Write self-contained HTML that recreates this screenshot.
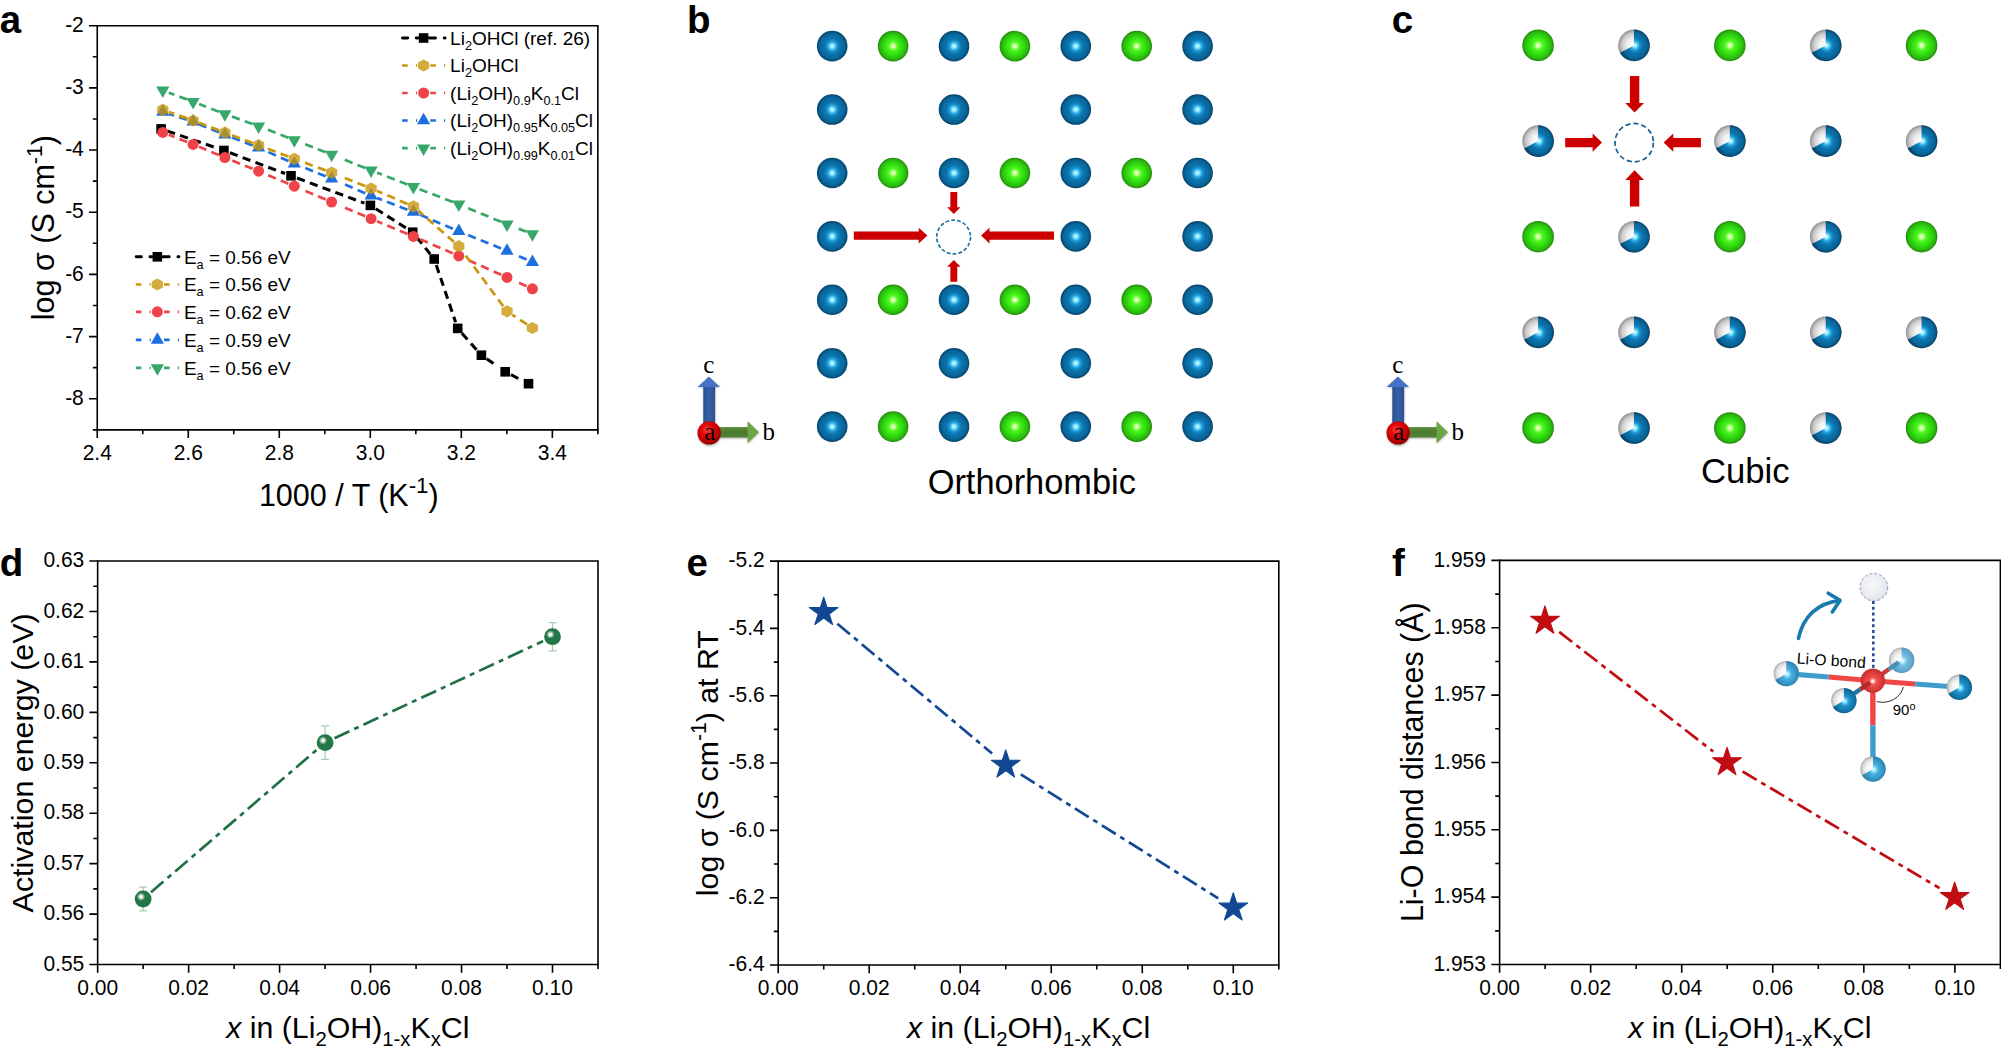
<!DOCTYPE html>
<html lang="en"><head><meta charset="utf-8"><title>Figure</title>
<style>html,body{margin:0;padding:0;background:#fff;}body{width:2001px;height:1053px;overflow:hidden;}svg{display:block;}text{font-family:'Liberation Sans', Arial, sans-serif;fill:#000;}</style>
</head><body>
<svg width="2001" height="1053" viewBox="0 0 2001 1053">
<defs>
<filter id="fsh" x="-30%" y="-30%" width="160%" height="160%"><feGaussianBlur stdDeviation="0.9"/></filter>
<radialGradient id="gB" cx="50%" cy="50%" r="50%"><stop offset="0" stop-color="#d8ffff"/><stop offset="0.12" stop-color="#8eeaff"/><stop offset="0.3" stop-color="#1f9cda"/><stop offset="0.5" stop-color="#0b75ae"/><stop offset="0.8" stop-color="#09669b"/><stop offset="0.93" stop-color="#084f7a"/><stop offset="1" stop-color="#07446c"/></radialGradient>
<radialGradient id="gG" cx="50%" cy="50%" r="50%"><stop offset="0" stop-color="#ffffe6"/><stop offset="0.12" stop-color="#c8ff9a"/><stop offset="0.3" stop-color="#4cf71e"/><stop offset="0.6" stop-color="#30dc10"/><stop offset="0.85" stop-color="#2bb80e"/><stop offset="1" stop-color="#228a0a"/></radialGradient>
<radialGradient id="gW" cx="50%" cy="50%" r="50%"><stop offset="0" stop-color="#ffffff"/><stop offset="0.35" stop-color="#f4f4f4"/><stop offset="0.7" stop-color="#cfcfcf"/><stop offset="1" stop-color="#8e8e8e"/></radialGradient>
<radialGradient id="gR" cx="42%" cy="38%" r="62%"><stop offset="0" stop-color="#ff4a4a"/><stop offset="0.35" stop-color="#e60a0a"/><stop offset="0.75" stop-color="#c00000"/><stop offset="1" stop-color="#8a0000"/></radialGradient>
<radialGradient id="gHi" cx="50%" cy="50%" r="50%"><stop offset="0" stop-color="#fff" stop-opacity="1"/><stop offset="0.3" stop-color="#fff" stop-opacity="0.95"/><stop offset="0.65" stop-color="#fff" stop-opacity="0.45"/><stop offset="1" stop-color="#fff" stop-opacity="0"/></radialGradient>
<radialGradient id="gBall" cx="36%" cy="32%" r="70%"><stop offset="0" stop-color="#ffffff"/><stop offset="0.12" stop-color="#cfe6d8"/><stop offset="0.3" stop-color="#2f8257"/><stop offset="0.6" stop-color="#1f7044"/><stop offset="1" stop-color="#185a36"/></radialGradient>
</defs>
<text x="-0.2" y="33.1" font-size="38.5" font-weight="bold">a</text>
<text x="687.1" y="33" font-size="38.5" font-weight="bold">b</text>
<text x="1391.8" y="33" font-size="38.5" font-weight="bold">c</text>
<text x="-0.2" y="576.4" font-size="38.5" font-weight="bold">d</text>
<text x="686.4" y="576.3" font-size="38.5" font-weight="bold">e</text>
<text x="1392" y="576.3" font-size="38.5" font-weight="bold">f</text>
<path d="M97.25 25.68 H597.85 V429.85" fill="none" stroke="#000" stroke-width="1.6" stroke-linejoin="miter"/>
<path d="M97.25 25.68 V429.85 H597.85" fill="none" stroke="#000" stroke-width="1.6" stroke-linecap="square"/>
<path d="M97.25 429.85 v8.25M188.27 429.85 v8.25M279.29 429.85 v8.25M370.3 429.85 v8.25M461.32 429.85 v8.25M552.34 429.85 v8.25M142.76 429.85 v4.4M233.78 429.85 v4.4M324.79 429.85 v4.4M415.81 429.85 v4.4M506.83 429.85 v4.4M597.85 429.85 v4.4M97.25 25.68 h-8.25M97.25 87.86 h-8.25M97.25 150.04 h-8.25M97.25 212.22 h-8.25M97.25 274.4 h-8.25M97.25 336.58 h-8.25M97.25 398.76 h-8.25M97.25 56.77 h-4.4M97.25 118.95 h-4.4M97.25 181.13 h-4.4M97.25 243.31 h-4.4M97.25 305.49 h-4.4M97.25 367.67 h-4.4M97.25 429.85 h-4.4" fill="none" stroke="#000" stroke-width="1.6"/>
<text transform="translate(97.25 459.6) scale(1 1.04)" font-size="21" text-anchor="middle">2.4</text>
<text transform="translate(188.27 459.6) scale(1 1.04)" font-size="21" text-anchor="middle">2.6</text>
<text transform="translate(279.29 459.6) scale(1 1.04)" font-size="21" text-anchor="middle">2.8</text>
<text transform="translate(370.3 459.6) scale(1 1.04)" font-size="21" text-anchor="middle">3.0</text>
<text transform="translate(461.32 459.6) scale(1 1.04)" font-size="21" text-anchor="middle">3.2</text>
<text transform="translate(552.34 459.6) scale(1 1.04)" font-size="21" text-anchor="middle">3.4</text>
<text transform="translate(83.8 31.88) scale(1 1.04)" font-size="21" text-anchor="end">-2</text>
<text transform="translate(83.8 94.06) scale(1 1.04)" font-size="21" text-anchor="end">-3</text>
<text transform="translate(83.8 156.24) scale(1 1.04)" font-size="21" text-anchor="end">-4</text>
<text transform="translate(83.8 218.42) scale(1 1.04)" font-size="21" text-anchor="end">-5</text>
<text transform="translate(83.8 280.6) scale(1 1.04)" font-size="21" text-anchor="end">-6</text>
<text transform="translate(83.8 342.78) scale(1 1.04)" font-size="21" text-anchor="end">-7</text>
<text transform="translate(83.8 404.96) scale(1 1.04)" font-size="21" text-anchor="end">-8</text>
<text x="348.8" y="505.6" font-size="30.5" text-anchor="middle" ><tspan dy="0">1000 / T (K</tspan><tspan dy="-12.2" font-size="22.27">-1</tspan><tspan dy="12.2">)</tspan></text>
<g transform="translate(54.2 227.6) rotate(-90)"><text x="0" y="0" font-size="30.5" text-anchor="middle" ><tspan dy="0">log σ (S cm</tspan><tspan dy="-12.2" font-size="21.35">-1</tspan><tspan dy="12.2">)</tspan></text></g>
<path d="M167.15 130.98L217.85 148.42M229.89 152.76L285.01 173.54M297 178.04L364.4 203.16M375.81 208.83L407.29 228.77M416.7 237.19L430.2 254.01M436.25 265.06L455.65 322.34M461.94 333.19L477.16 350.41M486.65 358.86L493.46 363.61M510.9 374.71L522.8 380.79" fill="none" stroke="#000000" stroke-width="3.05" stroke-dasharray="8.3 5.35"/>
<rect x="156.3" y="124.1" width="9.6" height="9.6" fill="#000000"/>
<rect x="219.1" y="145.7" width="9.6" height="9.6" fill="#000000"/>
<rect x="286.2" y="171" width="9.6" height="9.6" fill="#000000"/>
<rect x="365.6" y="200.6" width="9.6" height="9.6" fill="#000000"/>
<rect x="407.9" y="227.4" width="9.6" height="9.6" fill="#000000"/>
<rect x="429.4" y="254.2" width="9.6" height="9.6" fill="#000000"/>
<rect x="452.9" y="323.6" width="9.6" height="9.6" fill="#000000"/>
<rect x="476.6" y="350.4" width="9.6" height="9.6" fill="#000000"/>
<rect x="500.4" y="367" width="9.6" height="9.6" fill="#000000"/>
<rect x="523.7" y="378.9" width="9.6" height="9.6" fill="#000000"/>
<path d="M187.15 142.04L168.75 134.76M218.98 155.06L199.02 146.84M252.67 168.79L230.83 159.91M288.4 183.72L264.5 173.68M325.71 199.5L305.5 190.94M365.21 216.21L344.99 207.66M407.5 233.93L377 221.17M452.92 253.37L419.28 238.93M501.16 274.79L464.64 258.51M526.56 286.18L518.99 282.78" fill="none" stroke="#f04349" stroke-width="2.7" stroke-dasharray="8.3 5.35"/>
<circle cx="162.8" cy="132.4" r="5.5" fill="#f04349"/>
<circle cx="193.1" cy="144.4" r="5.5" fill="#f04349"/>
<circle cx="224.9" cy="157.5" r="5.5" fill="#f04349"/>
<circle cx="258.6" cy="171.2" r="5.5" fill="#f04349"/>
<circle cx="294.3" cy="186.2" r="5.5" fill="#f04349"/>
<circle cx="331.6" cy="202" r="5.5" fill="#f04349"/>
<circle cx="371.1" cy="218.7" r="5.5" fill="#f04349"/>
<circle cx="413.4" cy="236.4" r="5.5" fill="#f04349"/>
<circle cx="458.8" cy="255.9" r="5.5" fill="#f04349"/>
<circle cx="507" cy="277.4" r="5.5" fill="#f04349"/>
<circle cx="532.4" cy="288.8" r="5.5" fill="#f04349"/>
<path d="M187.02 119.81L168.88 113.89M218.97 132.29L199.03 124.21M252.63 145.48L230.87 137.02M288.45 161.01L264.45 150.39M325.67 176.3L305.32 168.06M365.22 193.17L345.06 184.49M407.43 209.7L377.07 198M452.91 228.71L419.29 214.49M501.08 248.48L464.72 233.62M526.55 259.6L518.97 256.22" fill="none" stroke="#1d6fe0" stroke-width="2.7" stroke-dasharray="8.3 5.35"/>
<polygon points="162.8,104.2 169.4,115.7 156.2,115.7" fill="#1d6fe0"/>
<polygon points="193.1,114.1 199.7,125.6 186.5,125.6" fill="#1d6fe0"/>
<polygon points="224.9,127 231.5,138.5 218.3,138.5" fill="#1d6fe0"/>
<polygon points="258.6,140.1 265.2,151.6 252,151.6" fill="#1d6fe0"/>
<polygon points="294.3,155.9 300.9,167.4 287.7,167.4" fill="#1d6fe0"/>
<polygon points="331.6,171 338.2,182.5 325,182.5" fill="#1d6fe0"/>
<polygon points="371.1,188 377.7,199.5 364.5,199.5" fill="#1d6fe0"/>
<polygon points="413.4,204.3 420,215.8 406.8,215.8" fill="#1d6fe0"/>
<polygon points="458.8,223.5 465.4,235 452.2,235" fill="#1d6fe0"/>
<polygon points="507,243.2 513.6,254.7 500.4,254.7" fill="#1d6fe0"/>
<polygon points="532.4,254.5 539,266 525.8,266" fill="#1d6fe0"/>
<path d="M187.06 118.39L168.84 112.01M218.92 130.32L199.08 122.78M252.61 142.96L230.89 134.84M288.32 156.61L264.58 147.49M325.59 170.39L300.31 161.11M365.16 186.11L344.8 177.91M407.51 203.91L376.99 190.99M453.99 241.98L418.21 210.62M503.19 306.16L462.61 251.34M527.05 324.48L512.35 314.82" fill="none" stroke="#c9960c" stroke-width="2.7" stroke-dasharray="8.3 5.35"/>
<polygon points="162.8,103.8 168.4,106.85 168.4,112.95 162.8,116 157.2,112.95 157.2,106.85" fill="#c9960c" fill-opacity="0.8"/>
<polygon points="193.1,114.4 198.7,117.45 198.7,123.55 193.1,126.6 187.5,123.55 187.5,117.45" fill="#c9960c" fill-opacity="0.8"/>
<polygon points="224.9,126.5 230.5,129.55 230.5,135.65 224.9,138.7 219.3,135.65 219.3,129.55" fill="#c9960c" fill-opacity="0.8"/>
<polygon points="258.6,139.1 264.2,142.15 264.2,148.25 258.6,151.3 253,148.25 253,142.15" fill="#c9960c" fill-opacity="0.8"/>
<polygon points="294.3,152.8 299.9,155.85 299.9,161.95 294.3,165 288.7,161.95 288.7,155.85" fill="#c9960c" fill-opacity="0.8"/>
<polygon points="331.6,166.5 337.2,169.55 337.2,175.65 331.6,178.7 326,175.65 326,169.55" fill="#c9960c" fill-opacity="0.8"/>
<polygon points="371.1,182.4 376.7,185.45 376.7,191.55 371.1,194.6 365.5,191.55 365.5,185.45" fill="#c9960c" fill-opacity="0.8"/>
<polygon points="413.4,200.3 419,203.35 419,209.45 413.4,212.5 407.8,209.45 407.8,203.35" fill="#c9960c" fill-opacity="0.8"/>
<polygon points="458.8,240.1 464.4,243.15 464.4,249.25 458.8,252.3 453.2,249.25 453.2,243.15" fill="#c9960c" fill-opacity="0.8"/>
<polygon points="507,305.2 512.6,308.25 512.6,314.35 507,317.4 501.4,314.35 501.4,308.25" fill="#c9960c" fill-opacity="0.8"/>
<polygon points="532.4,321.9 538,324.95 538,331.05 532.4,334.1 526.8,331.05 526.8,324.95" fill="#c9960c" fill-opacity="0.8"/>
<path d="M187.11 99.55L168.79 92.65M218.92 111.71L199.08 104.09M252.58 124.02L230.92 116.18M288.33 137.69L264.57 128.51M325.63 152.18L300.27 142.32M365.16 168.01L344.8 159.81M407.43 184.49L377.07 172.71M452.83 202L419.37 189.1M501.09 221.85L464.71 206.75M526.42 231.72L518.67 228.76" fill="none" stroke="#37a869" stroke-width="2.7" stroke-dasharray="8.3 5.35"/>
<polygon points="162.8,98.1 169.4,86.6 156.2,86.6" fill="#37a869"/>
<polygon points="193.1,109.5 199.7,98 186.5,98" fill="#37a869"/>
<polygon points="224.9,121.7 231.5,110.2 218.3,110.2" fill="#37a869"/>
<polygon points="258.6,133.9 265.2,122.4 252,122.4" fill="#37a869"/>
<polygon points="294.3,147.7 300.9,136.2 287.7,136.2" fill="#37a869"/>
<polygon points="331.6,162.2 338.2,150.7 325,150.7" fill="#37a869"/>
<polygon points="371.1,178.1 377.7,166.6 364.5,166.6" fill="#37a869"/>
<polygon points="413.4,194.5 420,183 406.8,183" fill="#37a869"/>
<polygon points="458.8,212 465.4,200.5 452.2,200.5" fill="#37a869"/>
<polygon points="507,232 513.6,220.5 500.4,220.5" fill="#37a869"/>
<polygon points="532.4,241.7 539,230.2 525.8,230.2" fill="#37a869"/>
<path d="M402.4 38H407.7M416.2 38H418.2M429.2 38H435.5M444.2 38H445.2" fill="none" stroke="#000000" stroke-width="2.9" stroke-linecap="round"/>
<rect x="418.8" y="33.2" width="9.6" height="9.6" fill="#000000"/>
<text x="450.1" y="44.7" font-size="19" text-anchor="start" ><tspan dy="0">Li</tspan><tspan dy="5" font-size="12.67">2</tspan><tspan dy="-5">OHCl (ref. 26)</tspan></text>
<path d="M402.1 65.5H407.7M415.9 65.5H417.1M430.3 65.5H435.9M444 65.5H445.2" fill="none" stroke="#c9960c" stroke-width="2.65"/>
<polygon points="423.6,59.4 429.2,62.45 429.2,68.55 423.6,71.6 418,68.55 418,62.45" fill="#c9960c" fill-opacity="0.8"/>
<text x="450.1" y="72.2" font-size="19" text-anchor="start" ><tspan dy="0">Li</tspan><tspan dy="5" font-size="12.67">2</tspan><tspan dy="-5">OHCl</tspan></text>
<path d="M402.1 93H407.7M415.9 93H417.1M430.3 93H435.9M444 93H445.2" fill="none" stroke="#f04349" stroke-width="2.65"/>
<circle cx="423.6" cy="93" r="5.5" fill="#f04349"/>
<text x="450.1" y="99.7" font-size="19" text-anchor="start" ><tspan dy="0">(Li</tspan><tspan dy="5" font-size="12.67">2</tspan><tspan dy="-5">OH)</tspan><tspan dy="5" font-size="12.67">0.9</tspan><tspan dy="-5">K</tspan><tspan dy="5" font-size="12.67">0.1</tspan><tspan dy="-5">Cl</tspan></text>
<path d="M402.1 120.5H407.7M415.9 120.5H417.1M430.3 120.5H435.9M444 120.5H445.2" fill="none" stroke="#1d6fe0" stroke-width="2.65"/>
<polygon points="423.6,112.85 430.2,124.35 417,124.35" fill="#1d6fe0"/>
<text x="450.1" y="127.2" font-size="19" text-anchor="start" ><tspan dy="0">(Li</tspan><tspan dy="5" font-size="12.67">2</tspan><tspan dy="-5">OH)</tspan><tspan dy="5" font-size="12.67">0.95</tspan><tspan dy="-5">K</tspan><tspan dy="5" font-size="12.67">0.05</tspan><tspan dy="-5">Cl</tspan></text>
<path d="M402.1 148.05H407.7M415.9 148.05H417.1M430.3 148.05H435.9M444 148.05H445.2" fill="none" stroke="#37a869" stroke-width="2.65"/>
<polygon points="423.6,155.9 430.2,144.4 417,144.4" fill="#37a869"/>
<text x="450.1" y="154.75" font-size="19" text-anchor="start" ><tspan dy="0">(Li</tspan><tspan dy="5" font-size="12.67">2</tspan><tspan dy="-5">OH)</tspan><tspan dy="5" font-size="12.67">0.99</tspan><tspan dy="-5">K</tspan><tspan dy="5" font-size="12.67">0.01</tspan><tspan dy="-5">Cl</tspan></text>
<path d="M136.15 256.8H141.45M149.95 256.8H151.95M162.95 256.8H169.25M177.95 256.8H178.95" fill="none" stroke="#000000" stroke-width="2.9" stroke-linecap="round"/>
<rect x="152.55" y="252" width="9.6" height="9.6" fill="#000000"/>
<text x="183.9" y="263.5" font-size="19" text-anchor="start" ><tspan dy="0">E</tspan><tspan dy="5" font-size="12.67">a</tspan><tspan dy="-5"> = 0.56 eV</tspan></text>
<path d="M135.85 284.5H141.45M149.65 284.5H150.85M164.05 284.5H169.65M177.75 284.5H178.95" fill="none" stroke="#c9960c" stroke-width="2.65"/>
<polygon points="157.35,278.4 162.95,281.45 162.95,287.55 157.35,290.6 151.75,287.55 151.75,281.45" fill="#c9960c" fill-opacity="0.8"/>
<text x="183.9" y="291.2" font-size="19" text-anchor="start" ><tspan dy="0">E</tspan><tspan dy="5" font-size="12.67">a</tspan><tspan dy="-5"> = 0.56 eV</tspan></text>
<path d="M135.85 311.85H141.45M149.65 311.85H150.85M164.05 311.85H169.65M177.75 311.85H178.95" fill="none" stroke="#f04349" stroke-width="2.65"/>
<circle cx="157.35" cy="311.85" r="5.5" fill="#f04349"/>
<text x="183.9" y="318.55" font-size="19" text-anchor="start" ><tspan dy="0">E</tspan><tspan dy="5" font-size="12.67">a</tspan><tspan dy="-5"> = 0.62 eV</tspan></text>
<path d="M135.85 339.9H141.45M149.65 339.9H150.85M164.05 339.9H169.65M177.75 339.9H178.95" fill="none" stroke="#1d6fe0" stroke-width="2.65"/>
<polygon points="157.35,332.25 163.95,343.75 150.75,343.75" fill="#1d6fe0"/>
<text x="183.9" y="346.6" font-size="19" text-anchor="start" ><tspan dy="0">E</tspan><tspan dy="5" font-size="12.67">a</tspan><tspan dy="-5"> = 0.59 eV</tspan></text>
<path d="M135.85 367.85H141.45M149.65 367.85H150.85M164.05 367.85H169.65M177.75 367.85H178.95" fill="none" stroke="#37a869" stroke-width="2.65"/>
<polygon points="157.35,375.7 163.95,364.2 150.75,364.2" fill="#37a869"/>
<text x="183.9" y="374.55" font-size="19" text-anchor="start" ><tspan dy="0">E</tspan><tspan dy="5" font-size="12.67">a</tspan><tspan dy="-5"> = 0.56 eV</tspan></text>
<defs><radialGradient id="gW2" gradientUnits="userSpaceOnUse" cx="0" cy="0" r="1"><stop offset="0" stop-color="#fff"/></radialGradient></defs>
<circle cx="832.2" cy="46.15" r="15.3" fill="url(#gB)"/>
<circle cx="893.1" cy="46.15" r="15.3" fill="url(#gG)"/>
<circle cx="954" cy="46.15" r="15.3" fill="url(#gB)"/>
<circle cx="1014.9" cy="46.15" r="15.3" fill="url(#gG)"/>
<circle cx="1075.8" cy="46.15" r="15.3" fill="url(#gB)"/>
<circle cx="1136.7" cy="46.15" r="15.3" fill="url(#gG)"/>
<circle cx="1197.6" cy="46.15" r="15.3" fill="url(#gB)"/>
<circle cx="832.2" cy="109.56" r="15.3" fill="url(#gB)"/>
<circle cx="954" cy="109.56" r="15.3" fill="url(#gB)"/>
<circle cx="1075.8" cy="109.56" r="15.3" fill="url(#gB)"/>
<circle cx="1197.6" cy="109.56" r="15.3" fill="url(#gB)"/>
<circle cx="832.2" cy="172.97" r="15.3" fill="url(#gB)"/>
<circle cx="893.1" cy="172.97" r="15.3" fill="url(#gG)"/>
<circle cx="954" cy="172.97" r="15.3" fill="url(#gB)"/>
<circle cx="1014.9" cy="172.97" r="15.3" fill="url(#gG)"/>
<circle cx="1075.8" cy="172.97" r="15.3" fill="url(#gB)"/>
<circle cx="1136.7" cy="172.97" r="15.3" fill="url(#gG)"/>
<circle cx="1197.6" cy="172.97" r="15.3" fill="url(#gB)"/>
<circle cx="832.2" cy="236.38" r="15.3" fill="url(#gB)"/>
<circle cx="1075.8" cy="236.38" r="15.3" fill="url(#gB)"/>
<circle cx="1197.6" cy="236.38" r="15.3" fill="url(#gB)"/>
<circle cx="832.2" cy="299.79" r="15.3" fill="url(#gB)"/>
<circle cx="893.1" cy="299.79" r="15.3" fill="url(#gG)"/>
<circle cx="954" cy="299.79" r="15.3" fill="url(#gB)"/>
<circle cx="1014.9" cy="299.79" r="15.3" fill="url(#gG)"/>
<circle cx="1075.8" cy="299.79" r="15.3" fill="url(#gB)"/>
<circle cx="1136.7" cy="299.79" r="15.3" fill="url(#gG)"/>
<circle cx="1197.6" cy="299.79" r="15.3" fill="url(#gB)"/>
<circle cx="832.2" cy="363.2" r="15.3" fill="url(#gB)"/>
<circle cx="954" cy="363.2" r="15.3" fill="url(#gB)"/>
<circle cx="1075.8" cy="363.2" r="15.3" fill="url(#gB)"/>
<circle cx="1197.6" cy="363.2" r="15.3" fill="url(#gB)"/>
<circle cx="832.2" cy="426.61" r="15.3" fill="url(#gB)"/>
<circle cx="893.1" cy="426.61" r="15.3" fill="url(#gG)"/>
<circle cx="954" cy="426.61" r="15.3" fill="url(#gB)"/>
<circle cx="1014.9" cy="426.61" r="15.3" fill="url(#gG)"/>
<circle cx="1075.8" cy="426.61" r="15.3" fill="url(#gB)"/>
<circle cx="1136.7" cy="426.61" r="15.3" fill="url(#gG)"/>
<circle cx="1197.6" cy="426.61" r="15.3" fill="url(#gB)"/>
<text x="1031.8" y="493.9" font-size="34.4" text-anchor="middle">Orthorhombic</text>
<circle cx="953.6" cy="237" r="16.9" fill="none" stroke="#1a6f9f" stroke-width="1.6" stroke-dasharray="3.8 2.1"/>
<polygon points="853.8,239.8 918.7,239.8 918.7,243.45 927.4,235.6 918.7,227.75 918.7,231.4 853.8,231.4" fill="#cc0000"/>
<polygon points="1054,231.4 989.5,231.4 989.5,227.75 981.1,235.6 989.5,243.45 989.5,239.8 1054,239.8" fill="#cc0000"/>
<polygon points="950.35,192.1 950.35,207.2 947.1,207.2 953.8,213.9 960.5,207.2 957.25,207.2 957.25,192.1" fill="#cc0000"/>
<polygon points="957.25,281.7 957.25,266.8 960.5,266.8 953.8,259.9 947.1,266.8 950.35,266.8 950.35,281.7" fill="#cc0000"/>
<defs><linearGradient id="gc0" x1="0" x2="1" y1="0" y2="0"><stop offset="0" stop-color="#2c4f8f"/><stop offset="0.5" stop-color="#3560a8"/><stop offset="1" stop-color="#2c5092"/></linearGradient><linearGradient id="gb0" x1="0" x2="0" y1="0" y2="1"><stop offset="0" stop-color="#5b8c3a"/><stop offset="0.5" stop-color="#4b7a2f"/><stop offset="1" stop-color="#548235"/></linearGradient></defs>
<g filter="url(#fsh)" opacity="0.4"><rect x="703.5" y="387" width="11.8" height="40" fill="#444"/><polygon points="709.1,377.4 720.2,387.6 697.9,387.6" fill="#444"/><rect x="712" y="428" width="36" height="10.5" fill="#444"/><polygon points="759.3,433 747.8,422 747.8,444" fill="#444"/><circle cx="709.5" cy="434.2" r="11.7" fill="#333"/></g>
<rect x="703.3" y="386" width="11.8" height="40" fill="url(#gc0)"/>
<polygon points="708.9,376.6 720,386.9 697.7,386.9" fill="#4472c4"/>
<rect x="712" y="427.1" width="36" height="10.5" fill="url(#gb0)"/>
<polygon points="759,432.2 747.6,421.2 747.6,443.2" fill="#6ca644"/>
<circle cx="709.2" cy="432.9" r="11.7" fill="url(#gR)"/>
<text x="708.8" y="372.6" font-size="25" text-anchor="middle" style="font-family:'Liberation Serif', 'Times New Roman', serif">c</text>
<text x="709.8" y="439.8" font-size="25" text-anchor="middle" style="font-family:'Liberation Serif', 'Times New Roman', serif">a</text>
<text x="762.5" y="439.8" font-size="25" style="font-family:'Liberation Serif', 'Times New Roman', serif">b</text>
<defs><radialGradient id="gWc" cx="50%" cy="50%" r="50%"><stop offset="0" stop-color="#ffffff"/><stop offset="0.4" stop-color="#f2f2f2"/><stop offset="0.75" stop-color="#cdcdcd"/><stop offset="1" stop-color="#909090"/></radialGradient></defs>
<circle cx="1538.1" cy="45.4" r="15.8" fill="url(#gG)"/>
<circle cx="1633.97" cy="45.4" r="15.8" fill="url(#gWc)"/><path d="M1633.97 45.4 L1633.97 29.6 A15.8 15.8 0 1 1 1620.02 52.82 Z" fill="url(#gB)"/>
<circle cx="1729.84" cy="45.4" r="15.8" fill="url(#gG)"/>
<circle cx="1825.71" cy="45.4" r="15.8" fill="url(#gWc)"/><path d="M1825.71 45.4 L1825.71 29.6 A15.8 15.8 0 1 1 1811.76 52.82 Z" fill="url(#gB)"/>
<circle cx="1921.58" cy="45.4" r="15.8" fill="url(#gG)"/>
<circle cx="1538.1" cy="141.05" r="15.8" fill="url(#gWc)"/><path d="M1538.1 141.05 L1538.1 125.25 A15.8 15.8 0 1 1 1524.15 148.47 Z" fill="url(#gB)"/>
<circle cx="1729.84" cy="141.05" r="15.8" fill="url(#gWc)"/><path d="M1729.84 141.05 L1729.84 125.25 A15.8 15.8 0 1 1 1715.89 148.47 Z" fill="url(#gB)"/>
<circle cx="1825.71" cy="141.05" r="15.8" fill="url(#gWc)"/><path d="M1825.71 141.05 L1825.71 125.25 A15.8 15.8 0 1 1 1811.76 148.47 Z" fill="url(#gB)"/>
<circle cx="1921.58" cy="141.05" r="15.8" fill="url(#gWc)"/><path d="M1921.58 141.05 L1921.58 125.25 A15.8 15.8 0 1 1 1907.63 148.47 Z" fill="url(#gB)"/>
<circle cx="1538.1" cy="236.7" r="15.8" fill="url(#gG)"/>
<circle cx="1633.97" cy="236.7" r="15.8" fill="url(#gWc)"/><path d="M1633.97 236.7 L1633.97 220.9 A15.8 15.8 0 1 1 1620.02 244.12 Z" fill="url(#gB)"/>
<circle cx="1729.84" cy="236.7" r="15.8" fill="url(#gG)"/>
<circle cx="1825.71" cy="236.7" r="15.8" fill="url(#gWc)"/><path d="M1825.71 236.7 L1825.71 220.9 A15.8 15.8 0 1 1 1811.76 244.12 Z" fill="url(#gB)"/>
<circle cx="1921.58" cy="236.7" r="15.8" fill="url(#gG)"/>
<circle cx="1538.1" cy="332.35" r="15.8" fill="url(#gWc)"/><path d="M1538.1 332.35 L1538.1 316.55 A15.8 15.8 0 1 1 1524.15 339.77 Z" fill="url(#gB)"/>
<circle cx="1633.97" cy="332.35" r="15.8" fill="url(#gWc)"/><path d="M1633.97 332.35 L1633.97 316.55 A15.8 15.8 0 1 1 1620.02 339.77 Z" fill="url(#gB)"/>
<circle cx="1729.84" cy="332.35" r="15.8" fill="url(#gWc)"/><path d="M1729.84 332.35 L1729.84 316.55 A15.8 15.8 0 1 1 1715.89 339.77 Z" fill="url(#gB)"/>
<circle cx="1825.71" cy="332.35" r="15.8" fill="url(#gWc)"/><path d="M1825.71 332.35 L1825.71 316.55 A15.8 15.8 0 1 1 1811.76 339.77 Z" fill="url(#gB)"/>
<circle cx="1921.58" cy="332.35" r="15.8" fill="url(#gWc)"/><path d="M1921.58 332.35 L1921.58 316.55 A15.8 15.8 0 1 1 1907.63 339.77 Z" fill="url(#gB)"/>
<circle cx="1538.1" cy="428" r="15.8" fill="url(#gG)"/>
<circle cx="1633.97" cy="428" r="15.8" fill="url(#gWc)"/><path d="M1633.97 428 L1633.97 412.2 A15.8 15.8 0 1 1 1620.02 435.42 Z" fill="url(#gB)"/>
<circle cx="1729.84" cy="428" r="15.8" fill="url(#gG)"/>
<circle cx="1825.71" cy="428" r="15.8" fill="url(#gWc)"/><path d="M1825.71 428 L1825.71 412.2 A15.8 15.8 0 1 1 1811.76 435.42 Z" fill="url(#gB)"/>
<circle cx="1921.58" cy="428" r="15.8" fill="url(#gG)"/>
<text x="1745.3" y="483.3" font-size="34.7" text-anchor="middle">Cubic</text>
<circle cx="1634.2" cy="142.65" r="19.2" fill="none" stroke="#15608f" stroke-width="1.7" stroke-dasharray="5.1 3"/>
<polygon points="1565.2,147.3 1592.6,147.3 1592.6,151.7 1602,142.6 1592.6,133.5 1592.6,137.9 1565.2,137.9" fill="#cc0000"/>
<polygon points="1700.9,137.9 1673.3,137.9 1673.3,133.5 1663.6,142.6 1673.3,151.7 1673.3,147.3 1700.9,147.3" fill="#cc0000"/>
<polygon points="1629.9,76.1 1629.9,103.1 1625.2,103.1 1634.6,112.5 1644,103.1 1639.3,103.1 1639.3,76.1" fill="#cc0000"/>
<polygon points="1639.3,206.5 1639.3,179.9 1644,179.9 1634.6,170.2 1625.2,179.9 1629.9,179.9 1629.9,206.5" fill="#cc0000"/>
<defs><linearGradient id="gc689" x1="0" x2="1" y1="0" y2="0"><stop offset="0" stop-color="#2c4f8f"/><stop offset="0.5" stop-color="#3560a8"/><stop offset="1" stop-color="#2c5092"/></linearGradient><linearGradient id="gb689" x1="0" x2="0" y1="0" y2="1"><stop offset="0" stop-color="#5b8c3a"/><stop offset="0.5" stop-color="#4b7a2f"/><stop offset="1" stop-color="#548235"/></linearGradient></defs>
<g filter="url(#fsh)" opacity="0.4"><rect x="1392.5" y="387" width="11.8" height="40" fill="#444"/><polygon points="1398.1,377.4 1409.2,387.6 1386.9,387.6" fill="#444"/><rect x="1401" y="428" width="36" height="10.5" fill="#444"/><polygon points="1448.3,433 1436.8,422 1436.8,444" fill="#444"/><circle cx="1398.5" cy="434.2" r="11.7" fill="#333"/></g>
<rect x="1392.3" y="386" width="11.8" height="40" fill="url(#gc689)"/>
<polygon points="1397.9,376.6 1409,386.9 1386.7,386.9" fill="#4472c4"/>
<rect x="1401" y="427.1" width="36" height="10.5" fill="url(#gb689)"/>
<polygon points="1448,432.2 1436.6,421.2 1436.6,443.2" fill="#6ca644"/>
<circle cx="1398.2" cy="432.9" r="11.7" fill="url(#gR)"/>
<text x="1397.8" y="372.6" font-size="25" text-anchor="middle" style="font-family:'Liberation Serif', 'Times New Roman', serif">c</text>
<text x="1398.8" y="439.8" font-size="25" text-anchor="middle" style="font-family:'Liberation Serif', 'Times New Roman', serif">a</text>
<text x="1451.5" y="439.8" font-size="25" style="font-family:'Liberation Serif', 'Times New Roman', serif">b</text>
<path d="M97.65 561.05 H598 V964.55" fill="none" stroke="#000" stroke-width="1.6" stroke-linejoin="miter"/>
<path d="M97.65 561.05 V964.55 H598" fill="none" stroke="#000" stroke-width="1.6" stroke-linecap="square"/>
<path d="M97.65 964.55 v8.25M188.62 964.55 v8.25M279.59 964.55 v8.25M370.57 964.55 v8.25M461.54 964.55 v8.25M552.51 964.55 v8.25M143.14 964.55 v4.4M234.11 964.55 v4.4M325.08 964.55 v4.4M416.05 964.55 v4.4M507.02 964.55 v4.4M598 964.55 v4.4M97.65 964.55 h-8.25M97.65 914.11 h-8.25M97.65 863.67 h-8.25M97.65 813.24 h-8.25M97.65 762.8 h-8.25M97.65 712.36 h-8.25M97.65 661.92 h-8.25M97.65 611.49 h-8.25M97.65 561.05 h-8.25M97.65 939.33 h-4.4M97.65 888.89 h-4.4M97.65 838.46 h-4.4M97.65 788.02 h-4.4M97.65 737.58 h-4.4M97.65 687.14 h-4.4M97.65 636.71 h-4.4M97.65 586.27 h-4.4" fill="none" stroke="#000" stroke-width="1.6"/>
<text transform="translate(97.65 994.6) scale(1 1.04)" font-size="21" text-anchor="middle">0.00</text>
<text transform="translate(188.62 994.6) scale(1 1.04)" font-size="21" text-anchor="middle">0.02</text>
<text transform="translate(279.59 994.6) scale(1 1.04)" font-size="21" text-anchor="middle">0.04</text>
<text transform="translate(370.57 994.6) scale(1 1.04)" font-size="21" text-anchor="middle">0.06</text>
<text transform="translate(461.54 994.6) scale(1 1.04)" font-size="21" text-anchor="middle">0.08</text>
<text transform="translate(552.51 994.6) scale(1 1.04)" font-size="21" text-anchor="middle">0.10</text>
<text transform="translate(84.3 970.75) scale(1 1.04)" font-size="21" text-anchor="end">0.55</text>
<text transform="translate(84.3 920.31) scale(1 1.04)" font-size="21" text-anchor="end">0.56</text>
<text transform="translate(84.3 869.87) scale(1 1.04)" font-size="21" text-anchor="end">0.57</text>
<text transform="translate(84.3 819.44) scale(1 1.04)" font-size="21" text-anchor="end">0.58</text>
<text transform="translate(84.3 769) scale(1 1.04)" font-size="21" text-anchor="end">0.59</text>
<text transform="translate(84.3 718.56) scale(1 1.04)" font-size="21" text-anchor="end">0.60</text>
<text transform="translate(84.3 668.12) scale(1 1.04)" font-size="21" text-anchor="end">0.61</text>
<text transform="translate(84.3 617.69) scale(1 1.04)" font-size="21" text-anchor="end">0.62</text>
<text transform="translate(84.3 567.25) scale(1 1.04)" font-size="21" text-anchor="end">0.63</text>
<text x="347.8" y="1037.8" font-size="30.3" text-anchor="middle" ><tspan dy="0" font-style="italic">x</tspan><tspan dy="0"> in (Li</tspan><tspan dy="7.8" font-size="20.3">2</tspan><tspan dy="-7.8">OH)</tspan><tspan dy="7.8" font-size="20.3">1-x</tspan><tspan dy="-7.8">K</tspan><tspan dy="7.8" font-size="20.3">x</tspan><tspan dy="-7.8">Cl</tspan></text>
<g transform="translate(32.8 762.9) rotate(-90)"><text x="0" y="0" font-size="30.4" text-anchor="middle" ><tspan dy="0">Activation energy (eV)</tspan></text></g>
<path d="M151.02 892.2L317.19 749.4M334.51 738.23L543.08 641.1" fill="none" stroke="#1f7044" stroke-width="2.7" stroke-dasharray="16.4 5.3 4.9 5.3"/>
<path d="M143.14 887.07V910.89M139.14 887.07h8M139.14 910.89h8" fill="none" stroke="#a6cdb6" stroke-width="1.2"/>
<circle cx="143.14" cy="898.98" r="8.4" fill="#237645"/><circle cx="141.04" cy="896.78" r="4.2" fill="url(#gHi)"/>
<path d="M325.08 725.97V759.28M321.08 725.97h8M321.08 759.28h8" fill="none" stroke="#a6cdb6" stroke-width="1.2"/>
<circle cx="325.08" cy="742.63" r="8.4" fill="#237645"/><circle cx="322.98" cy="740.43" r="4.2" fill="url(#gHi)"/>
<path d="M552.51 622.57V650.84M548.51 622.57h8M548.51 650.84h8" fill="none" stroke="#a6cdb6" stroke-width="1.2"/>
<circle cx="552.51" cy="636.71" r="8.4" fill="#237645"/><circle cx="550.41" cy="634.51" r="4.2" fill="url(#gHi)"/>
<path d="M778.2 561.1 H1278.8 V965" fill="none" stroke="#000" stroke-width="1.6" stroke-linejoin="miter"/>
<path d="M778.2 561.1 V965 H1278.8" fill="none" stroke="#000" stroke-width="1.6" stroke-linecap="square"/>
<path d="M778.2 965 v8.25M869.22 965 v8.25M960.24 965 v8.25M1051.25 965 v8.25M1142.27 965 v8.25M1233.29 965 v8.25M823.71 965 v4.4M914.73 965 v4.4M1005.75 965 v4.4M1096.76 965 v4.4M1187.78 965 v4.4M1278.8 965 v4.4M778.2 561.1 h-8.25M778.2 628.42 h-8.25M778.2 695.74 h-8.25M778.2 763.06 h-8.25M778.2 830.38 h-8.25M778.2 897.7 h-8.25M778.2 965.02 h-8.25M778.2 594.76 h-4.4M778.2 662.08 h-4.4M778.2 729.4 h-4.4M778.2 796.72 h-4.4M778.2 864.04 h-4.4M778.2 931.36 h-4.4" fill="none" stroke="#000" stroke-width="1.6"/>
<text transform="translate(778.2 994.6) scale(1 1.04)" font-size="21" text-anchor="middle">0.00</text>
<text transform="translate(869.22 994.6) scale(1 1.04)" font-size="21" text-anchor="middle">0.02</text>
<text transform="translate(960.24 994.6) scale(1 1.04)" font-size="21" text-anchor="middle">0.04</text>
<text transform="translate(1051.25 994.6) scale(1 1.04)" font-size="21" text-anchor="middle">0.06</text>
<text transform="translate(1142.27 994.6) scale(1 1.04)" font-size="21" text-anchor="middle">0.08</text>
<text transform="translate(1233.29 994.6) scale(1 1.04)" font-size="21" text-anchor="middle">0.10</text>
<text transform="translate(764.7 567.3) scale(1 1.04)" font-size="21" text-anchor="end">-5.2</text>
<text transform="translate(764.7 634.62) scale(1 1.04)" font-size="21" text-anchor="end">-5.4</text>
<text transform="translate(764.7 701.94) scale(1 1.04)" font-size="21" text-anchor="end">-5.6</text>
<text transform="translate(764.7 769.26) scale(1 1.04)" font-size="21" text-anchor="end">-5.8</text>
<text transform="translate(764.7 836.58) scale(1 1.04)" font-size="21" text-anchor="end">-6.0</text>
<text transform="translate(764.7 903.9) scale(1 1.04)" font-size="21" text-anchor="end">-6.2</text>
<text transform="translate(764.7 971.22) scale(1 1.04)" font-size="21" text-anchor="end">-6.4</text>
<text x="1028.6" y="1037.8" font-size="30.3" text-anchor="middle" ><tspan dy="0" font-style="italic">x</tspan><tspan dy="0"> in (Li</tspan><tspan dy="7.8" font-size="20.3">2</tspan><tspan dy="-7.8">OH)</tspan><tspan dy="7.8" font-size="20.3">1-x</tspan><tspan dy="-7.8">K</tspan><tspan dy="7.8" font-size="20.3">x</tspan><tspan dy="-7.8">Cl</tspan></text>
<g transform="translate(717.9 763.2) rotate(-90)"><text x="0" y="0" font-size="30.3" text-anchor="middle" ><tspan dy="0">log σ (S cm</tspan><tspan dy="-12.12" font-size="21.21">-1</tspan><tspan dy="12.12">) at RT</tspan></text></g>
<path d="M837.35 623.7L992.11 753.47M1020.82 774.38L1218.22 898.33" fill="none" stroke="#124893" stroke-width="2.7" stroke-dasharray="16.4 5.3 4.9 5.3"/>
<polygon points="823.71,597.16 827.1,607.6 838.07,607.6 829.19,614.05 832.58,624.48 823.71,618.03 814.83,624.48 818.22,614.05 809.35,607.6 820.32,607.6" fill="#124893" stroke="#124893" stroke-width="1.1" stroke-linejoin="round"/>
<polygon points="1005.75,749.81 1009.14,760.24 1020.11,760.25 1011.23,766.69 1014.62,777.13 1005.75,770.68 996.87,777.13 1000.26,766.69 991.38,760.25 1002.35,760.24" fill="#124893" stroke="#124893" stroke-width="1.1" stroke-linejoin="round"/>
<polygon points="1233.29,892.7 1236.68,903.13 1247.65,903.13 1238.78,909.58 1242.17,920.01 1233.29,913.57 1224.41,920.01 1227.8,909.58 1218.93,903.13 1229.9,903.13" fill="#124893" stroke="#124893" stroke-width="1.1" stroke-linejoin="round"/>
<path d="M1499.6 560.4 H2000.4 V964.5" fill="none" stroke="#000" stroke-width="1.6" stroke-linejoin="miter"/>
<path d="M1499.6 560.4 V964.5 H2000.4" fill="none" stroke="#000" stroke-width="1.6" stroke-linecap="square"/>
<path d="M1499.6 964.5 v8.25M1590.65 964.5 v8.25M1681.71 964.5 v8.25M1772.76 964.5 v8.25M1863.82 964.5 v8.25M1954.87 964.5 v8.25M1545.13 964.5 v4.4M1636.18 964.5 v4.4M1727.23 964.5 v4.4M1818.29 964.5 v4.4M1909.34 964.5 v4.4M2000.4 964.5 v4.4M1499.6 560.4 h-8.25M1499.6 627.75 h-8.25M1499.6 695.1 h-8.25M1499.6 762.45 h-8.25M1499.6 829.8 h-8.25M1499.6 897.15 h-8.25M1499.6 964.5 h-8.25M1499.6 594.08 h-4.4M1499.6 661.43 h-4.4M1499.6 728.78 h-4.4M1499.6 796.13 h-4.4M1499.6 863.48 h-4.4M1499.6 930.83 h-4.4" fill="none" stroke="#000" stroke-width="1.6"/>
<text transform="translate(1499.6 994.6) scale(1 1.04)" font-size="21" text-anchor="middle">0.00</text>
<text transform="translate(1590.65 994.6) scale(1 1.04)" font-size="21" text-anchor="middle">0.02</text>
<text transform="translate(1681.71 994.6) scale(1 1.04)" font-size="21" text-anchor="middle">0.04</text>
<text transform="translate(1772.76 994.6) scale(1 1.04)" font-size="21" text-anchor="middle">0.06</text>
<text transform="translate(1863.82 994.6) scale(1 1.04)" font-size="21" text-anchor="middle">0.08</text>
<text transform="translate(1954.87 994.6) scale(1 1.04)" font-size="21" text-anchor="middle">0.10</text>
<text transform="translate(1485.9 566.6) scale(1 1.04)" font-size="21" text-anchor="end">1.959</text>
<text transform="translate(1485.9 633.95) scale(1 1.04)" font-size="21" text-anchor="end">1.958</text>
<text transform="translate(1485.9 701.3) scale(1 1.04)" font-size="21" text-anchor="end">1.957</text>
<text transform="translate(1485.9 768.65) scale(1 1.04)" font-size="21" text-anchor="end">1.956</text>
<text transform="translate(1485.9 836) scale(1 1.04)" font-size="21" text-anchor="end">1.955</text>
<text transform="translate(1485.9 903.35) scale(1 1.04)" font-size="21" text-anchor="end">1.954</text>
<text transform="translate(1485.9 970.7) scale(1 1.04)" font-size="21" text-anchor="end">1.953</text>
<text x="1749.8" y="1037.8" font-size="30.3" text-anchor="middle" ><tspan dy="0" font-style="italic">x</tspan><tspan dy="0"> in (Li</tspan><tspan dy="7.8" font-size="20.3">2</tspan><tspan dy="-7.8">OH)</tspan><tspan dy="7.8" font-size="20.3">1-x</tspan><tspan dy="-7.8">K</tspan><tspan dy="7.8" font-size="20.3">x</tspan><tspan dy="-7.8">Cl</tspan></text>
<g transform="translate(1422.9 762.2) rotate(-90)"><text x="0" y="0" font-size="30.45" text-anchor="middle" ><tspan dy="0">Li-O bond distances (Å)</tspan></text></g>
<path d="M1559.19 631.93L1713.18 751.53M1742.55 771.51L1939.55 888.09" fill="none" stroke="#c00d12" stroke-width="2.7" stroke-dasharray="16.4 5.3 4.9 5.3"/>
<polygon points="1544.93,605.92 1548.32,616.35 1559.29,616.35 1550.41,622.8 1553.8,633.23 1544.93,626.78 1536.05,633.23 1539.44,622.8 1530.57,616.35 1541.54,616.35" fill="#c00d12" stroke="#c00d12" stroke-width="1.1" stroke-linejoin="round"/>
<polygon points="1727.03,747.35 1730.43,757.78 1741.4,757.78 1732.52,764.23 1735.91,774.67 1727.03,768.22 1718.16,774.67 1721.55,764.23 1712.67,757.78 1723.64,757.78" fill="#c00d12" stroke="#c00d12" stroke-width="1.1" stroke-linejoin="round"/>
<polygon points="1954.67,882.05 1958.06,892.48 1969.03,892.48 1960.16,898.93 1963.55,909.37 1954.67,902.92 1945.79,909.37 1949.18,898.93 1940.31,892.48 1951.28,892.48" fill="#c00d12" stroke="#c00d12" stroke-width="1.1" stroke-linejoin="round"/>
<defs>
<radialGradient id="gL1" cx="50%" cy="52%" r="50%"><stop offset="0" stop-color="#e6ffff"/><stop offset="0.14" stop-color="#9fe9ff"/><stop offset="0.38" stop-color="#48aede"/><stop offset="0.75" stop-color="#3596c8"/><stop offset="1" stop-color="#2a80b0"/></radialGradient>
<radialGradient id="gL2" cx="50%" cy="52%" r="50%"><stop offset="0" stop-color="#f0ffff"/><stop offset="0.14" stop-color="#bfeeff"/><stop offset="0.38" stop-color="#78bfe2"/><stop offset="0.75" stop-color="#62acd2"/><stop offset="1" stop-color="#5499be"/></radialGradient>
<radialGradient id="gL3" cx="50%" cy="52%" r="50%"><stop offset="0" stop-color="#d8ffff"/><stop offset="0.14" stop-color="#7fe0ff"/><stop offset="0.38" stop-color="#1f92cc"/><stop offset="0.75" stop-color="#1279ae"/><stop offset="1" stop-color="#0d6390"/></radialGradient>
<radialGradient id="gWi" cx="50%" cy="50%" r="50%"><stop offset="0" stop-color="#ffffff"/><stop offset="0.5" stop-color="#f6f6f6"/><stop offset="0.8" stop-color="#dcdcdc"/><stop offset="1" stop-color="#a8a8a8"/></radialGradient>
<radialGradient id="gO" cx="50%" cy="52%" r="50%"><stop offset="0" stop-color="#ffffff"/><stop offset="0.1" stop-color="#ffd0d0"/><stop offset="0.3" stop-color="#f05252"/><stop offset="0.7" stop-color="#e03c3c"/><stop offset="1" stop-color="#bf2f2f"/></radialGradient>
<radialGradient id="gGh" cx="45%" cy="40%" r="60%"><stop offset="0" stop-color="#f7f8fa"/><stop offset="0.6" stop-color="#eceef2"/><stop offset="1" stop-color="#dfe2e8"/></radialGradient>
</defs>
<path d="M1873.3 601V670" stroke="#2d4a9a" stroke-width="2.6" stroke-dasharray="3 2.8" fill="none"/>
<circle cx="1873.9" cy="587.2" r="13.8" fill="url(#gGh)" stroke="#4360ad" stroke-width="0.6" stroke-dasharray="3 2"/>
<circle cx="1901.6" cy="660.2" r="12.7" fill="url(#gWi)"/><path d="M1901.6 660.2 L1901.6 647.5 A12.7 12.7 0 1 1 1890.6 666.55 Z" fill="url(#gL2)"/>
<path d="M1872.8 680.7L1888.8 669.29" stroke="#c23a3a" stroke-width="4.4" fill="none"/>
<path d="M1888.8 669.29L1898.6 662.3" stroke="#4a8fb2" stroke-width="4.4" fill="none"/>
<path d="M1872.8 680.7L1828.68 677.08" stroke="#f04646" stroke-width="5.1" fill="none"/>
<path d="M1828.68 677.08L1786.3 673.6" stroke="#3f9ccc" stroke-width="5.1" fill="none"/>
<path d="M1872.8 680.7L1915.18 683.93" stroke="#f04646" stroke-width="5.1" fill="none"/>
<path d="M1915.18 683.93L1959.3 687.3" stroke="#3f9ccc" stroke-width="5.1" fill="none"/>
<path d="M1872.8 680.7L1872.9 725.29" stroke="#f04646" stroke-width="5.4" fill="none"/>
<path d="M1872.9 725.29L1873 769" stroke="#3f9ccc" stroke-width="5.4" fill="none"/>
<circle cx="1786.3" cy="673.6" r="12.7" fill="url(#gWi)"/><path d="M1786.3 673.6 L1786.3 660.9 A12.7 12.7 0 1 1 1775.3 679.95 Z" fill="url(#gL1)"/>
<circle cx="1959.3" cy="687.3" r="12.7" fill="url(#gWi)"/><path d="M1959.3 687.3 L1959.3 674.6 A12.7 12.7 0 1 1 1948.3 693.65 Z" fill="url(#gL3)"/>
<circle cx="1873" cy="769" r="12.7" fill="url(#gWi)"/><path d="M1873 769 L1873 756.3 A12.7 12.7 0 1 1 1862 775.35 Z" fill="url(#gL1)"/>
<circle cx="1872.8" cy="680.7" r="12.2" fill="url(#gO)"/>
<path d="M1870.2 682.6L1860.21 689.44" stroke="#b32b2b" stroke-width="4.4" fill="none"/>
<path d="M1860.21 689.44L1843.9 700.6" stroke="#2c7296" stroke-width="4.4" fill="none"/>
<circle cx="1843.9" cy="700.6" r="12.7" fill="url(#gWi)"/><path d="M1843.9 700.6 L1843.9 687.9 A12.7 12.7 0 1 1 1832.9 706.95 Z" fill="url(#gL3)"/>
<path d="M1876.7 701.6C1889 704.5 1900.5 698 1903.4 687" fill="none" stroke="#111" stroke-width="0.9"/>
<text x="1892.7" y="714.5" font-size="15">90<tspan font-size="11" dy="-4.5">o</tspan></text>
<text transform="translate(1796.6 663.6) rotate(3.7)" font-size="15.7">Li-O bond</text>
<path d="M1798.5 638.4C1803 617 1817 603 1839.6 600.6" fill="none" stroke="#1a7aad" stroke-width="3.6" stroke-linecap="round"/>
<path d="M1828.2 593.2L1840 600.4L1832.3 611.9" fill="none" stroke="#1a7aad" stroke-width="3.6" stroke-linecap="round" stroke-linejoin="round"/>
</svg>
</body></html>
